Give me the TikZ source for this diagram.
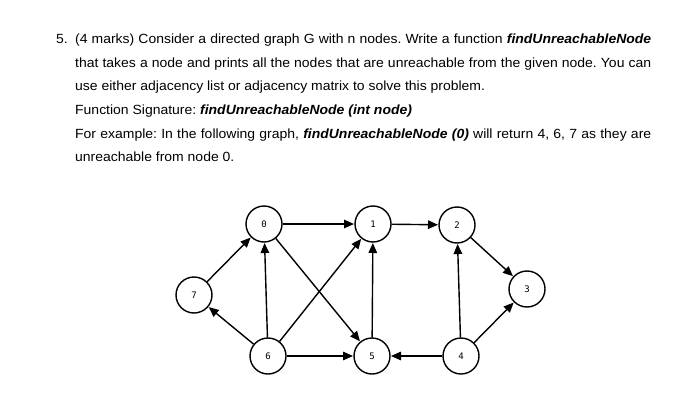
\documentclass[tikz,border=0pt]{standalone}
\usepackage{fontspec}
\setmainfont[FakeStretch=1.05]{Liberation Sans}
\newfontfamily\labelfont{DejaVu Sans Mono}
\usetikzlibrary{arrows.meta}
\tikzstyle{vertex}=[circle,draw,line width=1.4pt,minimum size=36pt,inner sep=0pt,font=\labelfont\fontsize{9}{10}\selectfont]
\tikzstyle{edge}=[line width=1.4pt,-{Triangle[length=10pt,width=8.5pt]},shorten >=0.3pt]
\tikzstyle{textline}=[anchor=base west,inner sep=0pt,font=\fontsize{13.3}{15}\selectfont]
\newcommand{\fname}[1]{\textbf{\textit{#1}}}
\newcommand{\fullline}[1]{\makebox[576pt][s]{#1}}
\frenchspacing

\begin{document}
\begin{tikzpicture}[x=1pt,y=1pt]
            \useasboundingbox (0,0) rectangle (682,408);
            % question text
            \node (num) at (56,364) [textline] {5.};
            \node (line1) at (75,364) [textline] {\fullline{(4 marks) Consider a directed graph G with n nodes. Write a function \fname{findUnreachableNode}}};
            \node (line2) at (75,341) [textline] {\fullline{that takes a node and prints all the nodes that are unreachable from the given node. You can}};
            \node (line3) at (75,318) [textline] {use either adjacency list or adjacency matrix to solve this problem.};
            \node (line4) at (75,294) [textline] {Function Signature: \fname{findUnreachableNode (int node)}};
            \node (line5) at (75,270) [textline] {\fullline{For example: In the following graph, \fname{findUnreachableNode (0)} will return 4, 6, 7 as they are}};
            \node (line6) at (75,247) [textline] {unreachable from node 0.};
            % graph
            \node (n0) at (264,184) [vertex] {0};
            \node (n1) at (373,184) [vertex] {1};
            \node (n2) at (457,183) [vertex] {2};
            \node (n3) at (527,119) [vertex] {3};
            \node (n7) at (194,113) [vertex] {7};
            \node (n6) at (268,52) [vertex] {6};
            \node (n5) at (372,52) [vertex] {5};
            \node (n4) at (461,52) [vertex] {4};
            \draw[edge] (n0) -- (n1);
            \draw[edge] (n1) -- (n2);
            \draw[edge] (n2) -- (n3);
            \draw[edge] (n7) -- (n0);
            \draw[edge] (n6) -- (n0);
            \draw[edge] (n6) -- (n1);
            \draw[edge] (n0) -- (n5);
            \draw[edge] (n6) -- (n7);
            \draw[edge] (n6) -- (n5);
            \draw[edge] (n5) -- (n1);
            \draw[edge] (n4) -- (n5);
            \draw[edge] (n4) -- (n2);
            \draw[edge] (n4) -- (n3);
        \end{tikzpicture}
\end{document}
